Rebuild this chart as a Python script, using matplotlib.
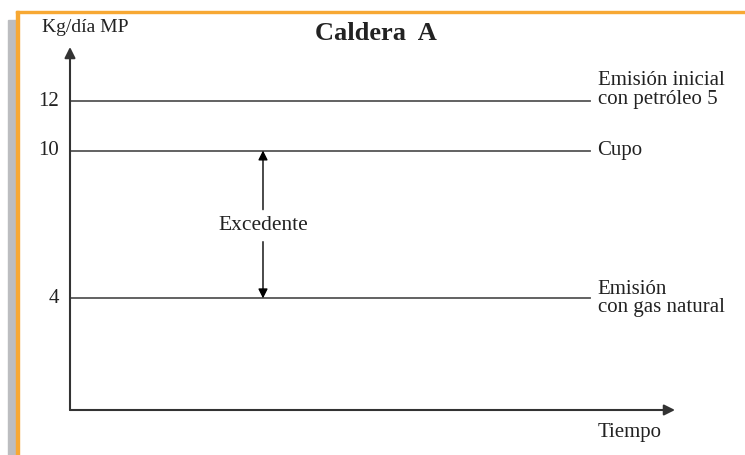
import matplotlib.pyplot as plt
from matplotlib.patches import Rectangle

plt.rcParams['font.family'] = ['Liberation Serif', 'DejaVu Serif']

# Niveles de emisión (Kg/día MP)
niveles = [12, 10, 4]
etiquetas = ['Emisión inicial\ncon petróleo 5', 'Cupo', 'Emisión\ncon gas natural']
ticks = [12, 10, 4]
tick_labels = ['12', '10', '4']
excedente = (10, 4)

fig = plt.figure(figsize=(7.45, 4.55), dpi=100)

# marco decorativo (gris a la izquierda, naranja arriba/izquierda)
fig.patches.append(Rectangle((8 / 745, 0), 8 / 745, 435 / 455, transform=fig.transFigure,
                             color='#bcbdc0', zorder=0))
fig.patches.append(Rectangle((16 / 745, 0), 2.5 / 745, 444 / 455, transform=fig.transFigure,
                             color='#f7a833', zorder=1))
fig.patches.append(Rectangle((16 / 745, 442 / 455), 729 / 745, 2.5 / 455, transform=fig.transFigure,
                             color='#f7a833', zorder=1))

ax = fig.add_axes([70 / 745, 45 / 455, 605 / 745, 363 / 455])
ax.set_xlim(0, 1)
ax.set_ylim(-0.53, 14.2)
ax.axis('off')

line_color = '#555555'
text_color = '#222222'
x_end = 0.86

# ejes con flechas
ax.annotate('', xy=(0, 14.2), xytext=(0, -0.53),
            arrowprops=dict(arrowstyle='-|>', color='#333333', lw=1.5, mutation_scale=16,
                            shrinkA=0, shrinkB=0))
ax.annotate('', xy=(1, -0.53), xytext=(0, -0.53),
            arrowprops=dict(arrowstyle='-|>', color='#333333', lw=1.5, mutation_scale=16,
                            shrinkA=0, shrinkB=0))

# líneas horizontales y etiquetas
offsets = [0.45, 0, 0]
for y, lab, off in zip(niveles, etiquetas, offsets):
    ax.plot([0, x_end], [y, y], color=line_color, lw=1.3)
    ax.text(x_end + 0.012, y + off, lab, fontsize=15, va='center', ha='left',
            linespacing=0.95, color=text_color)

for t, tl in zip(ticks, tick_labels):
    ax.text(-0.018, t, tl, fontsize=15, ha='right', va='center', color=text_color)

# flecha del excedente
xe = 0.319
ax.annotate('', xy=(xe, excedente[0]), xytext=(xe, 7.6),
            arrowprops=dict(arrowstyle='-|>', color='black', lw=1.0, mutation_scale=14,
                            shrinkA=0, shrinkB=0))
ax.annotate('', xy=(xe, excedente[1]), xytext=(xe, 6.3),
            arrowprops=dict(arrowstyle='-|>', color='black', lw=1.0, mutation_scale=14,
                            shrinkA=0, shrinkB=0))
ax.text(xe, 6.95, 'Excedente', fontsize=15.5, ha='center', va='center', color=text_color)

# textos de ejes y título
fig.text(42 / 745, 1 - 27 / 455, 'Kg/día MP', fontsize=14, ha='left', va='center', color=text_color)
fig.text(376 / 745, 1 - 33 / 455, 'Caldera  A', fontsize=19, fontweight='bold',
         ha='center', va='center', color=text_color)
fig.text(630 / 745, 1 - 432 / 455, 'Tiempo', fontsize=15, ha='center', va='center', color=text_color)

fig.savefig('out.png', dpi=100)
